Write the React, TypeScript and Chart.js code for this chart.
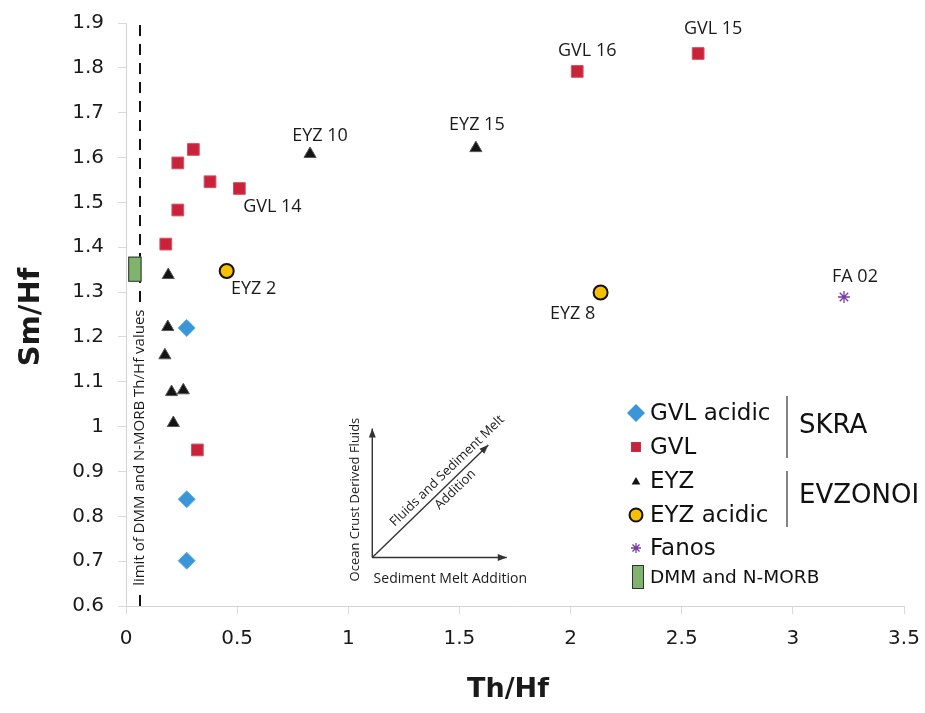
import React, { useEffect, useRef } from "react";
import { Chart, registerables } from "chart.js";
import { drawPoint } from "chart.js/helpers";

Chart.register(...registerables);

// ---- data ----
const gvlAcidicX = [0.273, 0.273, 0.273];
const gvlAcidicY = [1.22, 0.838, 0.701];
const gvlX = [0.179, 0.233, 0.233, 0.303, 0.378, 0.51, 0.321, 2.03, 2.574];
const gvlY = [1.407, 1.483, 1.588, 1.618, 1.546, 1.531, 0.948, 1.792, 1.832];
const eyzX = [0.19, 0.188, 0.175, 0.205, 0.258, 0.213, 0.828, 1.574];
const eyzY = [1.338, 1.222, 1.159, 1.077, 1.081, 1.008, 1.608, 1.621];
const eyzAcidicX = [0.453, 2.135];
const eyzAcidicY = [1.347, 1.299];
const fanosX = [3.23];
const fanosY = [1.289];
const dmmX = [0.01, 0.07];
const dmmY = [1.323, 1.379];
const limitX = 0.063;
const limitY = [0.6, 1.9];
const limitLabelY = 0.953;

const xTicks = [0, 0.5, 1, 1.5, 2, 2.5, 3, 3.5];
const yTicks = [0.6, 0.7, 0.8, 0.9, 1, 1.1, 1.2, 1.3, 1.4, 1.5, 1.6, 1.7, 1.8, 1.9];

const sampleNames = ["GVL 16", "GVL 15", "EYZ 10", "EYZ 15", "GVL 14", "EYZ 2", "EYZ 8", "FA 02"];
const sampleX = [2.03, 2.574, 0.828, 1.574, 0.51, 0.453, 2.135, 3.23];
const sampleY = [1.792, 1.832, 1.605, 1.618, 1.531, 1.347, 1.299, 1.289];

// inset diagram (data coords)
const insetOrigin = [1.108, 0.708];
const insetUpEnd = [1.108, 0.996];
const insetRightEnd = [1.713, 0.708];
const insetDiagEnd = [1.63, 0.959];

const legendNames = ["GVL acidic", "GVL", "EYZ", "EYZ acidic", "Fanos", "DMM and N-MORB"];
const groupNames = ["SKRA", "EVZONOI"];

const zip = (xs: number[], ys: number[]) => xs.map((x, i) => ({ x, y: ys[i] }));

const C_RED = "#c8233a";
const C_BLUE = "#3b96d8";
const C_BLACK = "#141414";
const C_YELLOW = "#f6c000";
const C_PURPLE = "#7a3aa6";
const C_GREEN = "#80b36e";

const fmt = (v: number) => String(Math.round(v * 10) / 10);

const annotPlugin = {
  id: "annot",
  afterDatasetsDraw(chart: any) {
    const { ctx, scales } = chart;
    const xs = scales.x, ys = scales.y;
    const px = (v: number) => xs.getPixelForValue(v);
    const py = (v: number) => ys.getPixelForValue(v);
    ctx.save();

    // DMM box
    const bx0 = px(dmmX[0]), bx1 = px(dmmX[1]);
    const by0 = py(dmmY[1]), by1 = py(dmmY[0]);
    ctx.fillStyle = C_GREEN;
    ctx.fillRect(bx0, by0, bx1 - bx0, by1 - by0);
    ctx.strokeStyle = "#333";
    ctx.lineWidth = 1;
    ctx.strokeRect(bx0 + 0.5, by0 + 0.5, bx1 - bx0 - 1, by1 - by0 - 1);

    // limit label
    ctx.save();
    ctx.translate(px(limitX), py(limitLabelY));
    ctx.rotate(-Math.PI / 2);
    ctx.font = "15px 'Open Sans'";
    const lt = "limit of DMM and N-MORB Th/Hf values";
    const lw = ctx.measureText(lt).width;
    ctx.fillStyle = "#fff";
    ctx.fillRect(-lw / 2 - 3, -9, lw + 6, 18);
    ctx.fillStyle = "#1a1a1a";
    ctx.textAlign = "center";
    ctx.textBaseline = "middle";
    ctx.fillText(lt, 0, 0);
    ctx.restore();

    // sample labels
    const offs = [[10, -21], [15, -25], [10, -19], [1, -25], [33, 18], [27, 18], [-28, 21], [11, -20]];
    ctx.font = "18px 'Open Sans'";
    ctx.fillStyle = "#1a1a1a";
    ctx.textAlign = "center";
    ctx.textBaseline = "middle";
    sampleNames.forEach((n, i) => {
      ctx.fillText(n, px(sampleX[i]) + offs[i][0], py(sampleY[i]) + offs[i][1]);
    });

    // inset arrows
    const ox = px(insetOrigin[0]), oy = py(insetOrigin[1]);
    const arrow = (x1: number, y1: number) => {
      ctx.strokeStyle = "#333";
      ctx.fillStyle = "#333";
      ctx.lineWidth = 1.4;
      ctx.beginPath();
      ctx.moveTo(ox, oy);
      ctx.lineTo(x1, y1);
      ctx.stroke();
      const a = Math.atan2(y1 - oy, x1 - ox);
      const L = 9, W = 3.5;
      ctx.beginPath();
      ctx.moveTo(x1, y1);
      ctx.lineTo(x1 - L * Math.cos(a) + W * Math.sin(a), y1 - L * Math.sin(a) - W * Math.cos(a));
      ctx.lineTo(x1 - L * Math.cos(a) - W * Math.sin(a), y1 - L * Math.sin(a) + W * Math.cos(a));
      ctx.closePath();
      ctx.fill();
    };
    arrow(px(insetUpEnd[0]), py(insetUpEnd[1]));
    arrow(px(insetRightEnd[0]), py(insetRightEnd[1]));
    const dx = px(insetDiagEnd[0]), dy = py(insetDiagEnd[1]);
    arrow(dx, dy);

    ctx.fillStyle = "#1a1a1a";
    ctx.font = "14px 'Open Sans'";
    ctx.textAlign = "center";
    ctx.textBaseline = "middle";
    ctx.fillText("Sediment Melt Addition", ox + 78, oy + 21);

    ctx.font = "13px 'Open Sans'";
    ctx.save();
    ctx.translate(ox - 17, oy - 58);
    ctx.rotate(-Math.PI / 2);
    ctx.fillText("Ocean Crust Derived Fluids", 0, 0);
    ctx.restore();

    const ang = Math.atan2(dy - oy, dx - ox);
    ctx.save();
    ctx.translate(ox, oy);
    ctx.rotate(ang);
    ctx.fillText("Fluids and Sediment Melt", 114, -10);
    ctx.fillText("Addition", 107, 9);
    ctx.restore();

    // axis titles
    ctx.font = "bold 27px 'DejaVu Sans'";
    ctx.fillStyle = "#1a1a1a";
    ctx.fillText("Th/Hf", (chart.chartArea.left + chart.chartArea.right) / 2 - 7, 690);
    ctx.save();
    ctx.translate(31, 317);
    ctx.rotate(-Math.PI / 2);
    ctx.font = "bold 29px 'DejaVu Sans'";
    ctx.fillText("Sm/Hf", 0, 0);
    ctx.restore();

    // legend
    const lx = 636;
    const tx = 650;
    const rows = [413, 447, 481, 515, 548, 577];
    const mk = [
      { pointStyle: "rectRot", radius: 9, bg: C_BLUE, bc: C_BLUE, bw: 0 },
      { pointStyle: "rect", radius: 7, bg: C_RED, bc: C_RED, bw: 0 },
      { pointStyle: "triangle", radius: 5, bg: C_BLACK, bc: C_BLACK, bw: 0 },
      { pointStyle: "circle", radius: 6.5, bg: C_YELLOW, bc: "#111", bw: 2 },
      { pointStyle: "star", radius: 5, bg: C_PURPLE, bc: C_PURPLE, bw: 1.3 },
    ];
    mk.forEach((m, i) => {
      ctx.fillStyle = m.bg;
      ctx.strokeStyle = m.bc;
      ctx.lineWidth = m.bw;
      drawPoint(ctx, { pointStyle: m.pointStyle as any, radius: m.radius, rotation: 0, borderWidth: m.bw }, lx, rows[i] + (i === 2 ? 1 : 0));
    });
    ctx.fillStyle = C_GREEN;
    ctx.fillRect(lx - 4, rows[5] - 12, 12, 24);
    ctx.strokeStyle = "#333";
    ctx.lineWidth = 1;
    ctx.strokeRect(lx - 3.5, rows[5] - 11.5, 11, 23);

    ctx.fillStyle = "#111";
    ctx.textAlign = "left";
    ctx.textBaseline = "middle";
    legendNames.forEach((n, i) => {
      ctx.font = i === 5 ? "18.5px 'DejaVu Sans'" : "23px 'DejaVu Sans'";
      ctx.fillText(n, tx, rows[i] + 1);
    });
    ctx.strokeStyle = "#333";
    ctx.lineWidth = 1.2;
    ctx.beginPath();
    ctx.moveTo(787, 396); ctx.lineTo(787, 458);
    ctx.moveTo(787, 471); ctx.lineTo(787, 527);
    ctx.stroke();
    ctx.font = "26px 'DejaVu Sans'";
    ctx.fillText(groupNames[0], 799, 426);
    ctx.fillText(groupNames[1], 799, 496);

    ctx.restore();
  },
};

export default function App() {
  const ref = useRef<HTMLCanvasElement>(null);
  useEffect(() => {
    if (!ref.current) return;
    const chart = new Chart(ref.current, {
      type: "scatter",
      data: {
        datasets: [
          {
            label: "limit",
            data: zip([limitX, limitX], limitY),
            showLine: true,
            borderColor: "#111",
            borderWidth: 2,
            borderDash: [11, 8],
            pointRadius: 0,
          },
          {
            label: "GVL acidic",
            data: zip(gvlAcidicX, gvlAcidicY),
            pointStyle: "rectRot",
            pointRadius: 8.5,
            backgroundColor: C_BLUE,
            borderColor: "#5aaee6",
            borderWidth: 1,
          },
          {
            label: "GVL",
            data: zip(gvlX, gvlY),
            pointStyle: "rect",
            pointRadius: 8.3,
            backgroundColor: C_RED,
            borderColor: "#d9505f",
            borderWidth: 1,
          },
          {
            label: "EYZ",
            data: zip(eyzX, eyzY),
            pointStyle: "triangle",
            pointRadius: 7,
            backgroundColor: C_BLACK,
            borderColor: "#555",
            borderWidth: 1,
          },
          {
            label: "EYZ acidic",
            data: zip(eyzAcidicX, eyzAcidicY),
            pointStyle: "circle",
            pointRadius: 7,
            backgroundColor: C_YELLOW,
            borderColor: "#111",
            borderWidth: 2,
          },
          {
            label: "Fanos",
            data: zip(fanosX, fanosY),
            pointStyle: "star",
            pointRadius: 6,
            backgroundColor: C_PURPLE,
            borderColor: C_PURPLE,
            borderWidth: 1.3,
          },
        ],
      },
      options: {
        responsive: false,
        animation: false,
        layout: { padding: { top: 23, right: 21, left: 0, bottom: 0 } },
        plugins: { legend: { display: false }, tooltip: { enabled: false } },
        scales: {
          x: {
            type: "linear",
            min: 0,
            max: 3.5,
            afterBuildTicks: (s: any) => { s.ticks = xTicks.map((v) => ({ value: v })); },
            afterFit: (s: any) => { s.height = 107; s.paddingLeft = 0; s.paddingRight = 0; },
            ticks: {
              callback: (v: any) => fmt(Number(v)),
              font: { family: "'DejaVu Sans'", size: 20 },
              color: "#1a1a1a",
              padding: 13,
              maxRotation: 0,
            },
            grid: { drawOnChartArea: false, tickLength: 8, color: "#d9d9d9" },
            border: { color: "#d4d4d4" },
          },
          y: {
            type: "linear",
            min: 0.6,
            max: 1.9,
            afterBuildTicks: (s: any) => { s.ticks = yTicks.map((v) => ({ value: v })); },
            afterFit: (s: any) => { s.width = 126; s.paddingTop = 0; s.paddingBottom = 0; },
            ticks: {
              callback: (v: any) => fmt(Number(v)),
              font: { family: "'DejaVu Sans'", size: 20 },
              color: "#1a1a1a",
              padding: 14,
            },
            grid: { drawOnChartArea: false, tickLength: 8, color: "#d9d9d9" },
            border: { color: "#d4d4d4" },
          },
        },
      },
      plugins: [annotPlugin],
    });
    return () => chart.destroy();
  }, []);
  return (
    <div style={{ position: "absolute", left: 0, top: 0, width: 925, height: 713, background: "#fff" }}>
      <canvas ref={ref} width={925} height={713} />
    </div>
  );
}
